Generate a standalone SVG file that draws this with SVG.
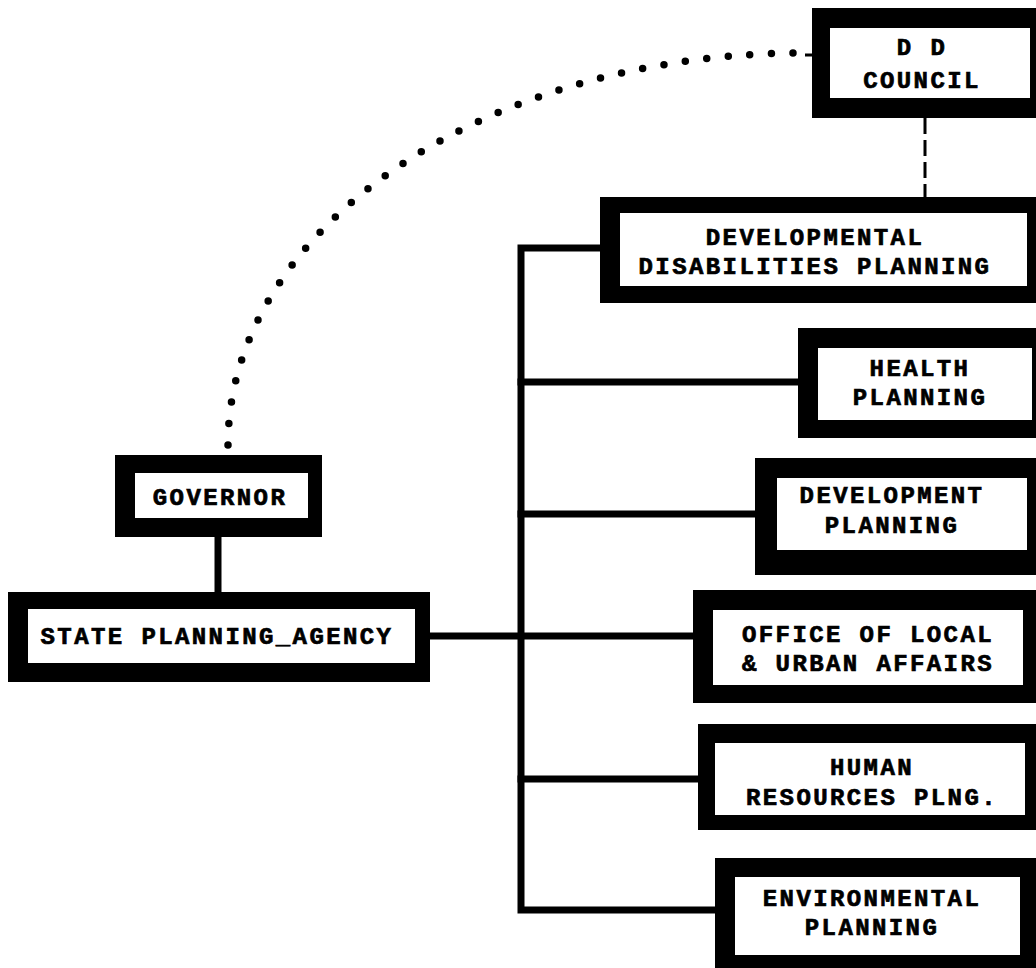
<svg xmlns="http://www.w3.org/2000/svg" width="1036" height="968" viewBox="0 0 1036 968">
  <style>
    .frame { fill: #000; }
    .panel { fill: #fff; }
    .label { font-family: "Liberation Mono", "DejaVu Sans Mono", monospace; font-weight: bold; font-size: 24px; letter-spacing: 2.4px; fill: #000; stroke: #000; stroke-width: 0.7; text-anchor: middle; }
    .link { stroke: #000; stroke-width: 7; fill: none; stroke-linecap: square; }
    .dots { stroke: #000; stroke-width: 7.5; fill: none; stroke-linecap: round; stroke-dasharray: 0 21.6; }
    .dash { stroke: #000; stroke-width: 3; fill: none; stroke-dasharray: 16 6; }
  </style>
  <rect width="1036" height="968" fill="#fff"/>

  <!-- connectors -->
  <g id="connectors">
    <!-- advisory link: governor to council -->
    <path class="dots" d="M 228 445 A 575 392 0 0 1 803 53"/>
    <line x1="805" y1="55" x2="813" y2="55" stroke="#000" stroke-width="3"/>
    <!-- council to DD planning -->
    <line class="dash" x1="925" y1="118" x2="925" y2="197"/>
    <!-- governor to state planning agency -->
    <line class="link" x1="218" y1="537" x2="218" y2="592"/>
    <!-- state planning agency to local affairs -->
    <line class="link" x1="430" y1="636" x2="693" y2="636"/>
    <!-- trunk and branches -->
    <polyline class="link" points="600,248 521,248 521,910 715,910"/>
    <line class="link" x1="521" y1="382" x2="798" y2="382"/>
    <line class="link" x1="521" y1="514" x2="755" y2="514"/>
    <line class="link" x1="521" y1="779" x2="698" y2="779"/>
  </g>

  <g id="dd-council">
    <rect class="frame" x="812" y="8" width="224" height="110"/>
    <rect class="panel" x="830" y="28" width="200" height="70"/>
    <text class="label" x="922" y="55">D D</text>
    <text class="label" x="922" y="88">COUNCIL</text>
  </g>

  <g id="dd-planning">
    <rect class="frame" x="600" y="197" width="436" height="106"/>
    <rect class="panel" x="620" y="213" width="407" height="73"/>
    <text class="label" x="815" y="245">DEVELOPMENTAL</text>
    <text class="label" x="815" y="274">DISABILITIES PLANNING</text>
  </g>

  <g id="health-planning">
    <rect class="frame" x="798" y="328" width="238" height="110"/>
    <rect class="panel" x="818" y="348" width="214" height="72"/>
    <text class="label" x="920" y="376">HEALTH</text>
    <text class="label" x="920" y="405">PLANNING</text>
  </g>

  <g id="development-planning">
    <rect class="frame" x="755" y="458" width="281" height="117"/>
    <rect class="panel" x="777" y="478" width="250" height="72"/>
    <text class="label" x="892" y="503">DEVELOPMENT</text>
    <text class="label" x="892" y="533">PLANNING</text>
  </g>

  <g id="local-urban-affairs">
    <rect class="frame" x="693" y="590" width="343" height="113"/>
    <rect class="panel" x="713" y="610" width="310" height="75"/>
    <text class="label" x="868" y="642">OFFICE OF LOCAL</text>
    <text class="label" x="868" y="671">&amp; URBAN AFFAIRS</text>
  </g>

  <g id="human-resources">
    <rect class="frame" x="698" y="724" width="338" height="106"/>
    <rect class="panel" x="715" y="743" width="310" height="72"/>
    <text class="label" x="872" y="775">HUMAN</text>
    <text class="label" x="872" y="805">RESOURCES PLNG.</text>
  </g>

  <g id="environmental-planning">
    <rect class="frame" x="715" y="858" width="321" height="110"/>
    <rect class="panel" x="735" y="877" width="285" height="78"/>
    <text class="label" x="872" y="906">ENVIRONMENTAL</text>
    <text class="label" x="872" y="935">PLANNING</text>
  </g>

  <g id="governor">
    <rect class="frame" x="115" y="455" width="207" height="82"/>
    <rect class="panel" x="135" y="473" width="173" height="45"/>
    <text class="label" x="220" y="505">GOVERNOR</text>
  </g>

  <g id="state-planning-agency">
    <rect class="frame" x="8" y="592" width="422" height="90"/>
    <rect class="panel" x="28" y="609" width="387" height="54"/>
    <text class="label" x="217" y="644">STATE PLANNING_AGENCY</text>
  </g>
</svg>
